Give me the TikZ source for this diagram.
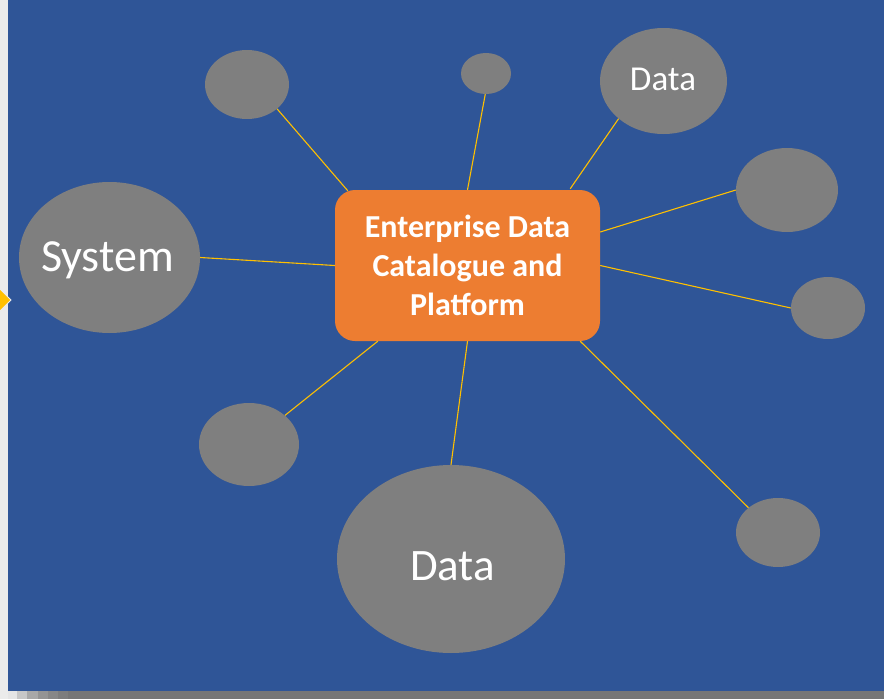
\documentclass[tikz,border=0pt]{standalone}
\usepackage{fontspec}
\setmainfont{Carlito}
\usetikzlibrary{shapes.geometric}
\definecolor{bgblue}{HTML}{2F5597}
\definecolor{bubble}{HTML}{7F7F7F}
\definecolor{hub}{HTML}{ED7D31}
\definecolor{link}{HTML}{FFC000}
\definecolor{side}{HTML}{EBEBEB}
\definecolor{strip}{HTML}{767676}
\begin{document}
\begin{tikzpicture}[x=1pt,y=-1pt,
  bub/.style={ellipse, fill=bubble, draw=none, inner sep=0pt},
  lbl/.style={text=white, anchor=base, inner sep=0pt},
  con/.style={draw=link, line width=1.1pt}]
\useasboundingbox (0,0) rectangle (884,699);
% background
\fill[side] (0,0) rectangle (884,699);
\fill[bgblue] (7.5,0) rectangle (884,691);
\fill[strip] (7.5,691) rectangle (884,699);
\fill[black!10] (7.5,691) rectangle (17,699);
\fill[black!22] (17,691) rectangle (27,699);
\fill[black!34] (27,691) rectangle (38,699);
\fill[black!42] (38,691) rectangle (48,699);
\fill[black!47] (48,691) rectangle (58,699);
\fill[black!51] (58,691) rectangle (68,699);
\filldraw[fill=link, draw=white!92!black, line width=0.8pt] (-1,288) -- (11,300) -- (-1,312) -- cycle;
% bubbles
\node[bub, minimum width=84pt, minimum height=69pt] (e1) at (247,84.5) {};
\node[bub, minimum width=50pt, minimum height=41pt] (e2) at (486,73.5) {};
\node[bub, minimum width=127pt, minimum height=106pt] (e3) at (663.5,81) {};
\node[bub, minimum width=102pt, minimum height=84pt] (e4) at (787,190) {};
\node[bub, minimum width=74pt, minimum height=62pt] (e5) at (828,308) {};
\node[bub, minimum width=84pt, minimum height=69pt] (e6) at (778,532.5) {};
\node[bub, minimum width=228pt, minimum height=188pt] (e7) at (451,559) {};
\node[bub, minimum width=100pt, minimum height=83pt] (e8) at (249,444.5) {};
\node[bub, minimum width=181pt, minimum height=151pt] (e9) at (109.5,257.5) {};
% labels
\node[lbl, font=\fontsize{35}{42}\selectfont] (t3) at (663,90) {Data};
\node[lbl, font=\fontsize{45}{54}\selectfont] (t7) at (452.5,580) {Data};
\node[lbl, font=\fontsize{46}{54}\selectfont] (t9) at (107.5,271.7) {System};
% hub
\node[rectangle, rounded corners=20pt, fill=hub, minimum width=265pt, minimum height=151pt,
      align=center, text=white,
      font=\fontsize{32}{39}\selectfont\bfseries] (box) at (467.5,265.5)
      {Enterprise Data\\Catalogue and\\Platform};
% connectors
\draw[con] ([xshift=13pt,yshift=-1pt]box.north west) -- (e1.-39);
\draw[con] (box.north) -- (e2.-92);
\draw[con] ([xshift=-30pt,yshift=1pt]box.north east) -- (e3.-140);
\draw[con] ([yshift=33.5pt]box.east) -- (e4.180);
\draw[con] (box.east) -- (e5.180);
\draw[con] ([xshift=-20pt]box.south east) -- (e6.140);
\draw[con] (box.south) -- (e7.90);
\draw[con] ([xshift=43pt]box.south west) -- (e8.39);
\draw[con] (box.west) -- (e9.0);
\end{tikzpicture}
\end{document}
